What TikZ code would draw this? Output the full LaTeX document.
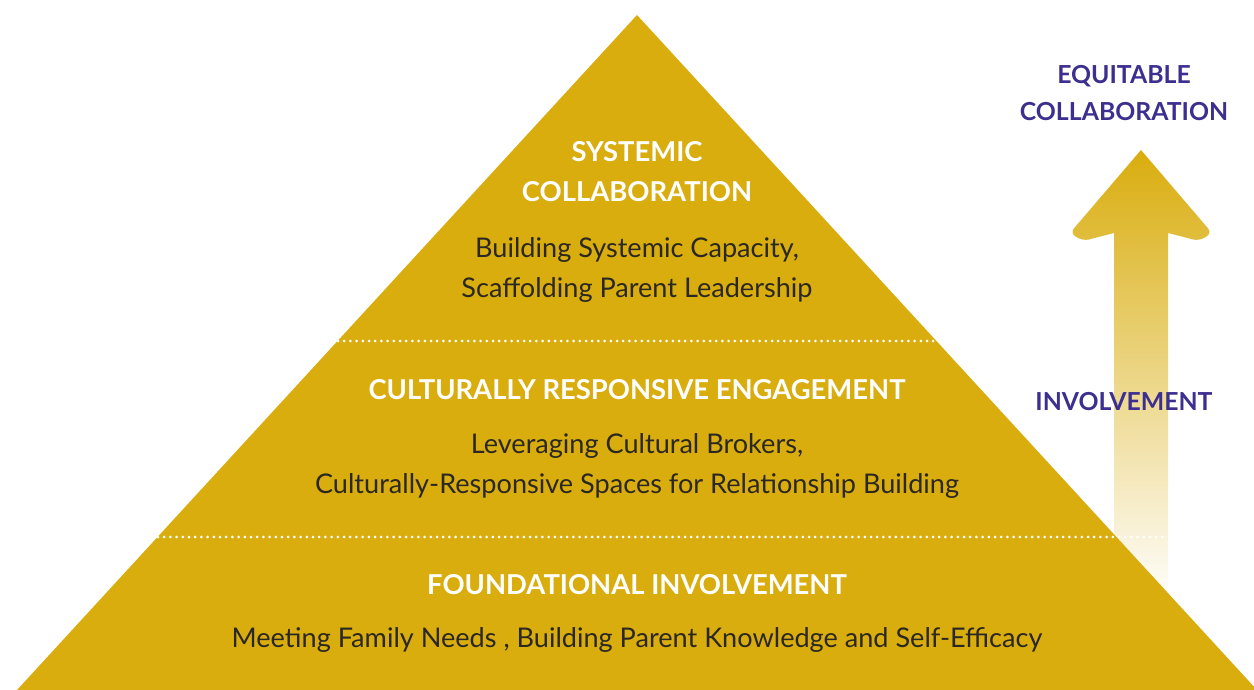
\documentclass[tikz,border=0pt]{standalone}
\usepackage{fontspec}
\setmainfont{Lato}
\usetikzlibrary{positioning}
\definecolor{pyrgold}{HTML}{D9AD0E}
\definecolor{eqpurple}{HTML}{3D2F8F}
\definecolor{bodyink}{HTML}{2B2824}
\tikzset{
  level/.style={text=white, font=\bfseries\fontsize{27.4}{32}\selectfont, anchor=base},
  detail/.style={text=bodyink, font=\fontsize{27.1}{32}\selectfont, anchor=base},
  scalelabel/.style={text=eqpurple, font=\bfseries\fontsize{24.8}{29}\selectfont, anchor=base},
  divider/.style={white, line width=3pt, line cap=round, dash pattern=on 0pt off 6.2pt}
}
\begin{document}
\begin{tikzpicture}[x=1pt, y=-1pt]
\useasboundingbox (0,0) rectangle (1254,690);
\shade[top color=pyrgold, middle color=pyrgold!45, bottom color=white]
  (1141,150) [rounded corners=6pt] -- (1212,233) -- (1199,241) [sharp corners]
  -- (1168,233) -- (1168,605) -- (1114,605) -- (1114,233)
  [rounded corners=6pt] -- (1083,241) -- (1070,233) [sharp corners] -- cycle;
\fill[pyrgold] (637,15) -- (1257,690) -- (17,690) -- cycle;
\draw[divider] (338,341) -- (936,341);
\draw[divider] (158,537) -- (1163,537);

\node[level] (sys) at (637,162) {SYSTEMIC};
\node[level] (syscollab) at (637,202) {COLLABORATION};
\node[detail] (capacity) at (637,257) {Building Systemic Capacity,};
\node[detail] (scaffold) at (637,297) {Scaffolding Parent Leadership};

\node[level] (cre) at (637,399) {CULTURALLY RESPONSIVE ENGAGEMENT};
\node[detail] (brokers) at (637,453) {Leveraging Cultural Brokers,};
\node[detail] (spaces) at (637,493) {Culturally-Responsive Spaces for Relationship Building};

\node[level] (found) at (637,594) {FOUNDATIONAL INVOLVEMENT};
\node[detail] (needs) at (637,647) {Meeting Family Needs , Building Parent Knowledge and Self-Efficacy};

\node[scalelabel] (equit) at (1124,84) {EQUITABLE};
\node[scalelabel] (eqcollab) at (1124,121) {COLLABORATION};
\node[scalelabel] (involve) at (1124,410) {INVOLVEMENT};
\end{tikzpicture}
\end{document}
